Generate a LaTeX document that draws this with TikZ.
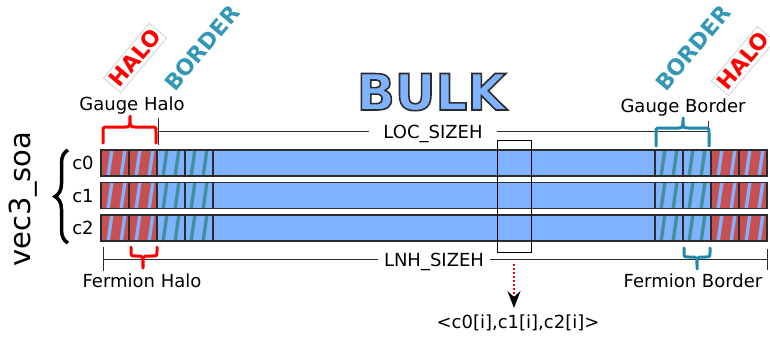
\documentclass[tikz,border=0pt]{standalone}
\usepackage{fontspec}
\setmainfont{DejaVu Sans}
\usetikzlibrary{arrows.meta,decorations.pathreplacing,calc}
\definecolor{bulkblue}{HTML}{80B3FF}
\definecolor{halored}{HTML}{C85050}
\definecolor{bordteal}{HTML}{448F9C}
\definecolor{braceteal}{HTML}{2088A8}
\definecolor{bordtext}{HTML}{3398B6}
\definecolor{rowline}{HTML}{2B2B2B}
\newcommand\StripeCell[5]{%
  \begin{scope}
    \clip (#1,#2) rectangle ({#1+28},{#2+26});
    \fill[#3] (#1,#2) rectangle ({#1+28},{#2+26});
    \foreach \s in {#5} \draw[#4,line width=3.4pt] ({#1+\s+2},{#2-1}) -- ({#1+\s-2},{#2+27});
  \end{scope}}
\newcommand\HBrace[7]{%
  \pgfmathsetmacro\bd{(#5>#6)?5:-5}%
  \draw[#1, line width=3pt, line cap=round, line join=round]
    (#2,#5) -- (#2,{#6+\bd}) .. controls (#2,#6) .. ({#2+5},#6) -- ({#4-5},#6)
    .. controls (#4,#6) .. (#4,#7) .. controls (#4,#6) .. ({#4+5},#6) -- ({#3-5},#6)
    .. controls (#3,#6) .. (#3,{#6+\bd}) -- (#3,#5);}
\tikzset{
  lbl/.style={font=\fontsize{18}{18}\selectfont, inner sep=0pt, anchor=base},
  bulkfont/.style={font=\bfseries\fontsize{50}{50}\selectfont, inner sep=0pt, anchor=base},
  halolbl/.style={rotate=50, fill=white, draw=gray!45, line width=0.6pt, text=red,
     font=\bfseries\fontsize{22}{22}\selectfont, inner xsep=2pt, inner ysep=3pt},
  bordlbl/.style={rotate=50, text=bordtext, font=\bfseries\fontsize{22}{22}\selectfont, inner sep=1pt},
  dimline/.style={draw=rowline, line width=1pt},
  rowedge/.style={draw=rowline, line width=1.3pt}
}
\begin{document}
\begin{tikzpicture}[x=1pt,y=-1pt]
\useasboundingbox (0,0) rectangle (770,341);
\fill[white] (0,0) rectangle (770,341);

% rotated labels
\node[halolbl] (haloL) at (135,58) {HALO};
\node[bordlbl] (bordL) at (202,48) {BORDER};
\node[bordlbl] (bordR) at (693,48) {BORDER};
\node[halolbl] (haloR) at (743,61) {HALO};

% BULK outlined title (fill + stroke text render mode)
\node[bulkfont, text=bulkblue] (bulk) at (431.5,110)
  {\special{pdf:literal direct 2 Tr 1.6 w 0.17 0.17 0.17 RG 0.502 0.702 1 rg}BULK\special{pdf:literal direct 0 Tr 1 w}};

% rows
\foreach \y in {150,182.5,215} {
  \fill[bulkblue] (101,\y) rectangle (767,{\y+26});
  \StripeCell{101}{\y}{halored}{bulkblue}{9,22}
  \StripeCell{129}{\y}{halored}{bulkblue}{9,22}
  \StripeCell{157}{\y}{bulkblue}{bordteal}{8,20}
  \StripeCell{185}{\y}{bulkblue}{bordteal}{8,20}
  \StripeCell{655}{\y}{bulkblue}{bordteal}{8,20}
  \StripeCell{683}{\y}{bulkblue}{bordteal}{8,20}
  \StripeCell{711}{\y}{halored}{bulkblue}{9,22}
  \StripeCell{739}{\y}{halored}{bulkblue}{9,22}
  \foreach \x in {129,157,185,213,655,683,711,739}
    \draw[rowedge] (\x,\y) -- (\x,{\y+26});
  \draw[rowedge] (101,\y) rectangle (767,{\y+26});
}

% row labels
\node[lbl] (c0) at (83,169.5) {c0};
\node[lbl] (c1) at (83,202) {c1};
\node[lbl] (c2) at (83,234.5) {c2};
\node[font=\fontsize{29}{29}\selectfont, rotate=90, inner sep=0pt] (vec) at (23,199) {vec3\_soa};
\draw[decorate, decoration={brace, amplitude=13pt}, line width=3.5pt] (68,243) -- (68,150);

% LOC_SIZEH dimension
\coordinate (locL) at (158,131);
\coordinate (locR) at (708,131);
\node[lbl, inner xsep=14pt] (loc) at (433,138) {LOC\_SIZEH};
\draw[dimline] (locL) -- (locL -| loc.west);
\draw[dimline] (loc.east |- locR) -- (locR);
\draw[dimline] ($(locL)+(0,-13)$) -- ($(locL)+(0,14)$);
\draw[dimline] ($(locR)+(0,-10)$) -- ($(locR)+(0,16)$);

% LNH_SIZEH dimension
\coordinate (lnhL) at (103,259);
\coordinate (lnhR) at (767,259);
\node[lbl, inner xsep=6pt] (lnh) at (434,266) {LNH\_SIZEH};
\draw[dimline] (lnhL) -- (lnhL -| lnh.west);
\draw[dimline] (lnh.east |- lnhR) -- (lnhR);
\draw[dimline] ($(lnhL)+(0,-12)$) -- ($(lnhL)+(0,12)$);
\draw[dimline] ($(lnhR)+(0,-10)$) -- ($(lnhR)+(0,11)$);

% braces
\HBrace{red}{103}{156}{130}{143}{127}{116}
\HBrace{braceteal}{656}{709}{683}{146}{128}{118}
\HBrace{red}{131}{157}{143}{247}{256}{268}
\HBrace{braceteal}{684}{710}{697}{248}{257}{269}

% brace labels
\node[lbl] (gh) at (132,110) {Gauge Halo};
\node[lbl] (gb) at (683,112) {Gauge Border};
\node[lbl] (fh) at (142,287) {Fermion Halo};
\node[lbl] (fb) at (693,287) {Fermion Border};

% highlighted column and arrow
\node[draw=black, line width=1pt, minimum width=34pt, minimum height=112pt, inner sep=0pt] (hl) at (514,196) {};
\node[lbl] (elem) at (518,328) {<c0[i],c1[i],c2[i]>};
\coordinate (arS) at (514,264);
\coordinate (arE) at (514,308);
\draw[red, line width=2pt, dash pattern=on 2pt off 2pt,
  -{Stealth[color=black, length=17pt, width=13pt, inset=6pt]}] (arS) -- (arE);
\end{tikzpicture}
\end{document}
